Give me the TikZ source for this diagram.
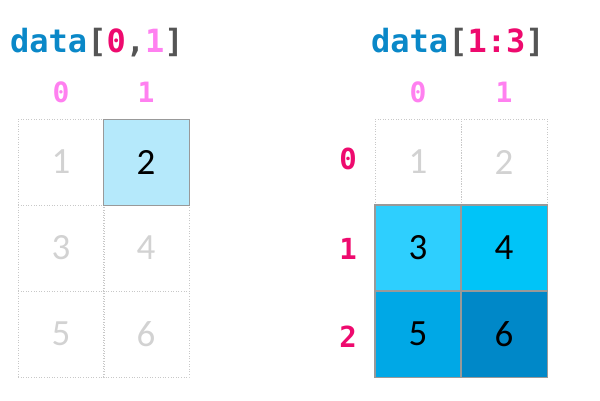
\documentclass[tikz,border=0pt]{standalone}
\usepackage{fontspec}
\setmainfont{Carlito}
\newfontfamily\monofont{DejaVu Sans Mono}
\definecolor{titleblue}{HTML}{0A88C8}
\definecolor{brgray}{HTML}{555555}
\definecolor{magenta}{HTML}{EE0A6E}
\definecolor{pinkl}{HTML}{FF80F0}
\definecolor{fadegray}{HTML}{D2D2D2}
\definecolor{gridgray}{HTML}{C8C8C8}
\definecolor{hl}{HTML}{B5E9FB}
\definecolor{cA}{HTML}{2ECFFE}
\definecolor{cB}{HTML}{00C4F8}
\definecolor{cC}{HTML}{00A8E6}
\definecolor{cD}{HTML}{0088C8}
\tikzset{
  title/.style={anchor=base west, inner sep=0pt, font=\monofont\bfseries\fontsize{32}{36}\selectfont},
  collab/.style={inner sep=0pt, text=pinkl, font=\monofont\bfseries\fontsize{28}{32}\selectfont},
  rowlab/.style={inner sep=0pt, text=magenta, font=\monofont\bfseries\fontsize{29}{32}\selectfont},
  cell/.style={minimum width=86pt, minimum height=86pt, inner sep=0pt, draw=gridgray, dotted, line width=0.6pt, text=fadegray, font=\fontsize{37}{40}\selectfont},
  hcell/.style={cell, solid, draw=gray!80, line width=0.8pt, text=black},
  hborder/.style={draw=gray!80, line width=0.8pt}
}
\begin{document}
\begin{tikzpicture}[x=1pt,y=-1pt]
\useasboundingbox (0,0) rectangle (600,400);
% titles
\node[title] (t1) at (10,52) {\textcolor{titleblue}{data}\textcolor{brgray}{[}\textcolor{magenta}{0}\textcolor{brgray}{,}\textcolor{pinkl}{1}\textcolor{brgray}{]}};
\node[title] (t2) at (371,52) {\textcolor{titleblue}{data}\textcolor{brgray}{[}\textcolor{magenta}{1:3}\textcolor{brgray}{]}};
% left column labels
\node[collab] (lc0) at (61,92) {0};
\node[collab] (lc1) at (146,92) {1};
% left grid
\node[cell] (l1) at (61,162) {1};
\node[cell] (l3) at (61,248) {3};
\node[cell] (l4) at (146,248) {4};
\node[cell] (l5) at (61,334) {5};
\node[cell] (l6) at (146,334) {6};
\node[hcell, fill=hl] (l2) at (146,162) {2};
% right column labels
\node[collab] (rc0) at (418,92) {0};
\node[collab] (rc1) at (504,92) {1};
% row labels
\node[rowlab] (rr0) at (348,159) {0};
\node[rowlab] (rr1) at (348,249) {1};
\node[rowlab] (rr2) at (348,337) {2};
% right grid
\node[cell] (r1) at (418,162) {1};
\node[cell] (r2) at (504,162) {2};
\node[hcell, fill=cA] (r3) at (418,248) {3};
\node[hcell, fill=cB] (r4) at (504,248) {4};
\node[hcell, fill=cC] (r5) at (418,334) {5};
\node[hcell, fill=cD] (r6) at (504,334) {6};
\foreach \n in {r3,r4,r5,r6}
  \draw[hborder] (\n.north west) rectangle (\n.south east);
\end{tikzpicture}
\end{document}
